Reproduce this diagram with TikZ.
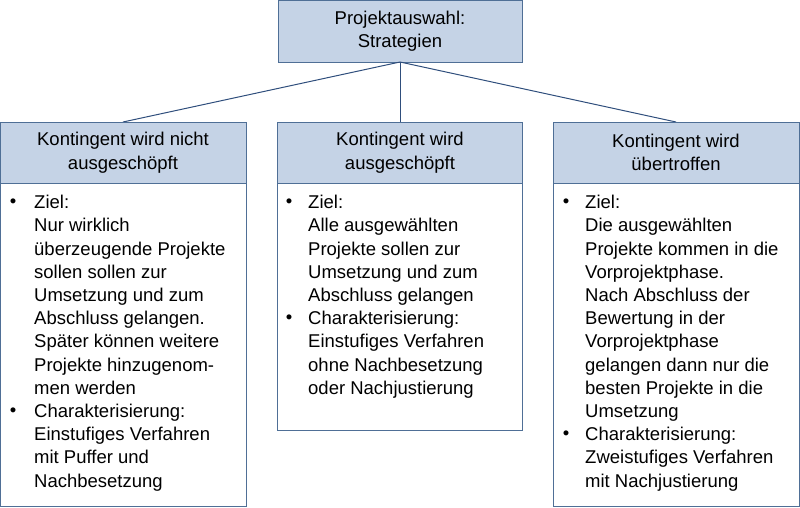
\documentclass[tikz,border=0pt]{standalone}
\usepackage{fontspec}
\setmainfont{Liberation Sans}
\begin{document}
\begin{tikzpicture}[x=1pt,y=-1pt,
  hd/.style={draw=bd,fill=hf,line width=0.8pt},
  bx/.style={draw=bd,fill=white,line width=0.8pt},
  ht/.style={font=\fontsize{18.5}{23.5}\selectfont,align=center,text=black},
  bt/.style={font=\fontsize{18.5}{23.2}\selectfont,align=left,anchor=north west,inner sep=0pt},
  bul/.style={font=\fontsize{18.5}{23.2}\selectfont,inner sep=0pt},
  ln/.style={draw=lc,line width=1pt}]
\definecolor{hf}{HTML}{C5D3E6}
\definecolor{bd}{HTML}{4F6F96}
\definecolor{lc}{HTML}{2F4E7C}
\useasboundingbox (0,0) rectangle (800,508);
\path[hd] (278.5,0.5) rectangle (522,62);
\node[ht] (top) at (400,31) {Projektauswahl:\\Strategien};
\coordinate (tb) at (400,62);
\foreach \x/\n in {0/a,277/b,553/c}{
  \coordinate (h\n) at (\x+123,122);
}
\draw[ln] (tb) -- (ha); \draw[ln] (tb) -- (hb); \draw[ln] (tb) -- (hc);
\path[bx] (0.5,183) rectangle (246,506.5);
\path[bx] (277.5,183) rectangle (522,430);
\path[bx] (553.5,183) rectangle (799.5,506.5);
\path[hd] (0.5,122) rectangle (246,183);
\path[hd] (277.5,122) rectangle (522,183);
\path[hd] (553.5,122) rectangle (799.5,183);
\node[ht] (ta) at (123,152.5) {Kontingent wird nicht\\ausgeschöpft};
\node[ht] (tbx) at (400,152.5) {Kontingent wird\\ausgeschöpft};
\node[ht] (tc) at (676,152.5) {Kontingent wird\\übertroffen};
\node[bt] (la) at (34,195) {Ziel:\\Nur wirklich\\überzeugende Projekte\\sollen sollen zur\\Umsetzung und zum\\Abschluss gelangen.\\Später können weitere\\Projekte hinzugenom-\\men werden\\Charakterisierung:\\Einstufiges Verfahren\\mit Puffer und\\Nachbesetzung};
\node[bt] (lb) at (308,195) {Ziel:\\Alle ausgewählten\\Projekte sollen zur\\Umsetzung und zum\\Abschluss gelangen\\Charakterisierung:\\Einstufiges Verfahren\\ohne Nachbesetzung\\oder Nachjustierung};
\node[bt] (lc) at (585,195) {Ziel:\\Die ausgewählten\\Projekte kommen in die\\Vorprojektphase.\\Nach Abschluss der\\Bewertung in der\\Vorprojektphase\\gelangen dann nur die\\besten Projekte in die\\Umsetzung\\Charakterisierung:\\Zweistufiges Verfahren\\mit Nachjustierung};
\node[bul] (b1) at (13,203) {•}; \node[bul] (b2) at (13,412) {•};
\node[bul] (b3) at (289,203) {•}; \node[bul] (b4) at (289,319) {•};
\node[bul] (b5) at (566,203) {•}; \node[bul] (b6) at (566,435) {•};
\end{tikzpicture}
\end{document}
